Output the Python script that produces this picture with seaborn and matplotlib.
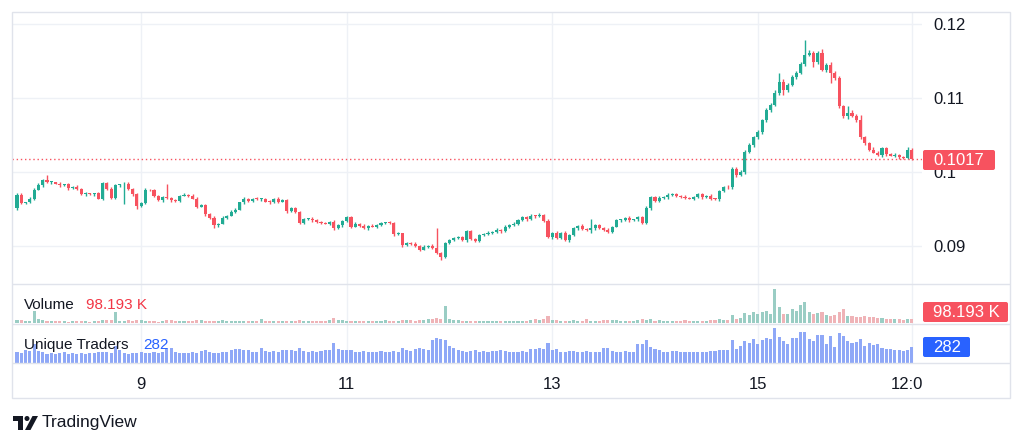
import numpy as np
import pandas as pd
import matplotlib
matplotlib.use("Agg")
import matplotlib.pyplot as plt
import seaborn as sns
from matplotlib.patches import Rectangle, FancyBboxPatch, Circle, Polygon
from matplotlib.ticker import FuncFormatter

# hourly candles, values
first_open = 0.0951
closes_a = [0.0969, 0.0958, 0.0959, 0.0964, 0.0976, 0.0982, 0.0989, 0.0986, 0.0986, 0.0984,
            0.0982, 0.0983, 0.0978, 0.0980, 0.0977, 0.0970, 0.0971, 0.0970, 0.0971, 0.0964,
            0.0985, 0.0977, 0.0965, 0.0982, 0.0983, 0.0984, 0.0977, 0.0970, 0.0954, 0.0958,
            0.0976, 0.0975, 0.0968, 0.0962, 0.0966, 0.0965, 0.0962, 0.0961, 0.0968, 0.0969,
            0.0968, 0.0964, 0.0953, 0.0955, 0.0943, 0.0938, 0.0928, 0.0930, 0.0938, 0.0941,
            0.0946, 0.0949, 0.0959, 0.0964, 0.0961, 0.0964, 0.0963, 0.0964, 0.0960, 0.0959,
            0.0964, 0.0960, 0.0962, 0.0947, 0.0951, 0.0946, 0.0931, 0.0936, 0.0937, 0.0935,
            0.0932]
closes_b = [0.0931, 0.0930, 0.0932, 0.0924, 0.0928, 0.0934, 0.0939, 0.0926, 0.0930, 0.0927,
            0.0924, 0.0927, 0.0926, 0.0928, 0.0931, 0.0932, 0.0931, 0.0916, 0.0917, 0.0901,
            0.0904, 0.0903, 0.0900, 0.0895, 0.0899, 0.0900, 0.0897, 0.0891, 0.0885, 0.0904,
            0.0908, 0.0911, 0.0912, 0.0908, 0.0920, 0.0909, 0.0907, 0.0915, 0.0916, 0.0918,
            0.0919, 0.0922, 0.0920, 0.0926, 0.0928, 0.0930, 0.0935, 0.0939, 0.0936, 0.0941,
            0.0940, 0.0942, 0.0934, 0.0912, 0.0918, 0.0911, 0.0918, 0.0908, 0.0915, 0.0924,
            0.0927, 0.0923, 0.0922, 0.0924, 0.0928, 0.0924, 0.0922, 0.0919, 0.0926, 0.0935]
closes_c = [0.0935, 0.0938, 0.0935, 0.0936, 0.0939, 0.0931, 0.0951, 0.0966,
            0.0961, 0.0965, 0.0966, 0.0969, 0.0970, 0.0968, 0.0966, 0.0965, 0.0964, 0.0966,
            0.0970, 0.0966, 0.0968, 0.0964, 0.0963, 0.0974, 0.0980, 0.0979, 0.1004, 0.0996,
            0.1000, 0.1027, 0.1036, 0.1047, 0.1054, 0.1070, 0.1084, 0.1091, 0.1107, 0.1122,
            0.1111, 0.1118, 0.1128, 0.1134, 0.1146, 0.1158, 0.1161, 0.1149, 0.1161, 0.1138,
            0.1145, 0.1134, 0.1127, 0.1089, 0.1076, 0.1080, 0.1076, 0.1070, 0.1047, 0.1039,
            0.1030, 0.1026, 0.1023, 0.1032, 0.1024, 0.1022, 0.1023, 0.1020, 0.1019, 0.1030,
            0.1017]

# wick lengths beyond the body, in units of 0.0001
wick_up = [3, 2, 1, 2, 2, 3, 2, 7, 2, 1, 2, 1, 2, 1, 2,
           1, 2, 1, 1, 2, 2, 1, 2, 2, 1, 2, 2, 1, 2, 2,
           2, 1, 2, 1, 2, 18, 1, 2, 1, 2, 1, 2, 2, 1, 2,
           1, 2, 1, 2, 1, 2, 2, 1, 2, 1, 1, 2, 1, 1, 2,
           1, 2, 1, 2, 1, 2, 1, 2, 1, 2, 1, 2, 1, 2, 3,
           2, 1, 2, 1, 2, 1, 2, 1, 2, 1, 2, 1, 2, 1, 2,
           1, 2, 1, 2, 1, 2, 1, 2, 27, 1, 2, 2, 1, 2, 1,
           2, 1, 2, 1, 2, 2, 1, 2, 1, 2, 1, 2, 1, 2, 1,
           2, 1, 2, 1, 2, 1, 2, 1, 2, 1, 2, 1, 2, 1, 12,
           1, 2, 1, 2, 1, 2, 2, 1, 2, 1, 2, 1, 3, 2, 1,
           2, 1, 2, 1, 2, 1, 3, 1, 2, 1, 2, 1, 2, 1, 2,
           1, 2, 3, 2, 3, 2, 3, 2, 3, 2, 3, 2, 4, 12, 3,
           2, 3, 2, 3, 20, 3, 2, 2, 5, 2, 3, 2, 3, 2, 9,
           3, 2, 7, 2, 2, 3, 2, 1, 2, 1, 2, 1, 2, 3, 2]
wick_dn = [2, 1, 2, 1, 2, 1, 2, 1, 2, 1, 2, 1, 2, 1, 2,
           1, 2, 1, 2, 1, 2, 1, 2, 1, 2, 26, 1, 2, 4, 1,
           2, 1, 2, 1, 2, 1, 2, 1, 2, 1, 2, 1, 2, 1, 2,
           1, 4, 2, 1, 2, 1, 2, 1, 2, 1, 2, 1, 2, 1, 2,
           1, 2, 1, 2, 1, 2, 1, 2, 1, 2, 1, 2, 1, 2, 2,
           1, 2, 1, 2, 1, 2, 1, 2, 1, 2, 1, 2, 1, 2, 1,
           2, 1, 2, 1, 2, 1, 2, 1, 2, 4, 1, 2, 1, 2, 1,
           2, 1, 2, 1, 2, 1, 2, 1, 2, 1, 2, 1, 2, 1, 2,
           1, 2, 1, 2, 1, 2, 1, 2, 1, 2, 1, 2, 1, 2, 4,
           2, 1, 2, 1, 2, 1, 2, 1, 2, 1, 2, 1, 2, 2, 1,
           2, 1, 2, 1, 2, 1, 2, 1, 2, 1, 2, 1, 2, 1, 2,
           1, 2, 2, 3, 2, 3, 2, 3, 2, 3, 2, 3, 2, 3, 7,
           3, 2, 3, 2, 3, 2, 7, 3, 2, 3, 14, 3, 2, 3, 4,
           2, 3, 2, 3, 2, 1, 2, 3, 2, 1, 2, 3, 2, 1, 1]

# volume in thousands
volume_k = [72, 70, 48, 52, 295, 98, 74, 50, 46, 52, 44, 50, 28, 47, 53, 49, 45, 30, 51, 48,
            70, 76, 68, 270, 52, 47, 71, 50, 66, 73,
            48, 52, 45, 30, 50, 69, 74, 47, 51, 44, 49, 53, 70, 66, 48, 45, 52, 47, 72, 50,
            46, 51, 49, 53, 47, 50, 48, 96, 52, 45,
            50, 47, 52, 46, 49, 51, 71, 48, 45, 52, 47, 50, 49, 68, 122, 74, 70, 51, 46, 49,
            52, 47, 44, 50, 48, 53, 69, 49, 46, 51,
            72, 68, 75, 50, 73, 70, 96, 101, 118, 95, 415, 97, 72, 68, 50, 46, 52, 49, 47, 51,
            48, 52, 46,
            49, 46, 52, 48, 50, 45, 51, 70, 96, 74, 99, 168, 72, 69, 50, 47, 52, 71, 48, 50,
            98, 47, 52, 49, 70, 74, 68, 72, 50, 46, 52, 48, 71, 97, 75, 94, 49, 70, 47, 52,
            46, 50, 48, 73, 51, 47, 49, 52, 50, 74, 69, 97, 75, 72,
            196, 98, 122, 245, 196, 270, 220, 268, 294, 221, 833, 392, 220, 218, 343, 294, 441, 515, 270, 221,
            245, 270, 196, 172, 196, 270, 343, 172, 170, 147, 150, 172, 147, 149, 122, 120, 100, 96, 98, 101,
            74, 97, 98.193]

traders = [190, 175, 215, 200, 320, 210, 180, 160, 170, 150, 165, 180, 150, 170, 160, 175, 155, 170, 165, 180,
           190, 185, 175, 285, 230, 170, 160, 175, 165, 180,
           175, 165, 180, 170, 185, 240, 250, 190, 170, 175, 165, 180, 175, 205, 220, 180, 170, 175, 190, 180,
           225, 235, 240, 230, 215, 190, 180, 265, 200, 185,
           205, 190, 215, 230, 220, 200, 260, 210, 195, 205, 190, 200, 215, 225, 335, 240, 230, 225, 215, 195,
           185, 200, 190, 180, 195, 205, 185, 190, 200, 195,
           260, 225, 210, 240, 250, 235, 230, 395, 420, 410, 400, 290, 250, 220, 200, 190, 205, 215, 195, 200,
           190, 210, 200,
           225, 200, 190, 195, 185, 200, 190, 245, 240, 250, 235, 335, 215, 235, 195, 190, 200, 210, 195, 185,
           200, 190, 195, 180, 250, 260, 200, 195, 185, 205, 195, 190, 320, 330, 390, 280, 235, 215, 190, 195,
           200, 205, 190, 185, 195, 190, 185, 190, 195, 200, 210, 215, 225, 220,
           387, 246, 287, 375, 346, 416, 317, 393, 434, 405, 598, 452, 375, 317, 434, 434, 534, 522, 416, 375,
           475, 475, 317, 463, 270, 510, 463, 375, 346, 358, 416, 287, 346, 305, 328, 258, 246, 246, 229, 217,
           200, 217, 282]

price_ticks = [0.09, 0.10, 0.11, 0.12]
last_price = "0.1017"
last_volume = "98.193 K"
last_traders = "282"

UP, DOWN = "#22ab94", "#f7525f"
VOL_UP, VOL_DOWN = "#92d5ca", "#f9a9ae"
TRADERS_C = "#8fa8f7"
GRID = "#eef1f6"
FRAME = "#e0e3eb"
TXT = "#131722"

close = np.array(closes_a + closes_b + closes_c)
open_ = np.concatenate([[first_open], close[:-1]])
df = pd.DataFrame({
    "i": np.arange(len(close)),
    "open": open_,
    "close": close,
    "high": np.maximum(open_, close) + np.array(wick_up) * 1e-4,
    "low": np.minimum(open_, close) - np.array(wick_dn) * 1e-4,
    "volume": volume_k,
    "traders": traders,
})
df["dir"] = np.where(df["close"] >= df["open"], "up", "down")
times = pd.date_range("2024-07-07 19:00", periods=len(df), freq="h")

sns.set_theme(style="white")
plt.rcParams["font.family"] = ["Liberation Sans", "DejaVu Sans"]

W, H = 1024, 445
fig = plt.figure(figsize=(W / 100, H / 100), dpi=100)


def pane(x0, y0, x1, y1):
    # pixel box, measured from the top left corner
    return fig.add_axes([x0 / W, 1 - y1 / H, (x1 - x0) / W, (y1 - y0) / H])


ax_p = pane(12, 12, 922, 284)
ax_v = pane(12, 284, 922, 324)
ax_t = pane(12, 324, 922, 363)

# candle i sits at 17 + 4.282*i px
step = 4.282
xlim = ((12 - 17) / step, (922 - 17) / step)

tick_pos = [i for i, t in enumerate(times) if t.hour == 0 and t.day in (9, 11, 13, 15)] + [len(times) - 1]
tick_lab = [str(times[i].day) for i in tick_pos[:-1]] + [times[-1].strftime("%H:%M")]

# price pane
colors = np.where(df["dir"] == "up", UP, DOWN)
ax_p.vlines(df["i"], df["low"], df["high"], colors=colors, lw=1, zorder=2)
body = (df["close"] - df["open"]).abs().clip(lower=0.00012)
ax_p.bar(df["i"], body, bottom=np.minimum(df["open"], df["close"]), width=0.72,
         color=colors, linewidth=0, zorder=3)
ax_p.axhline(float(last_price), color=DOWN, lw=1, ls=(0, (1, 2)), zorder=4)
ax_p.set_ylim(0.08486, 0.1216)
ax_p.set_yticks(price_ticks)
ax_p.yaxis.set_major_formatter(FuncFormatter(lambda v, _: f"{v:g}"))
ax_p.yaxis.tick_right()
ax_p.tick_params(axis="y", length=0, pad=8, labelsize=12, labelcolor=TXT)
ax_p.grid(True, axis="y", color=GRID, lw=1)

# volume pane
sns.barplot(data=df, x="i", y="volume", hue="dir", palette={"up": VOL_UP, "down": VOL_DOWN},
            native_scale=True, width=0.72, errorbar=None, legend=False, linewidth=0, ax=ax_v)
ax_v.set_ylim(-24.5, 955)

# unique traders pane
sns.barplot(data=df, x="i", y="traders", color=TRADERS_C, native_scale=True, width=0.72,
            errorbar=None, linewidth=0, ax=ax_t, saturation=1)
ax_t.set_ylim(0, 667)

for ax in (ax_p, ax_v, ax_t):
    ax.set_xlim(*xlim)
    ax.set_xticks(tick_pos)
    ax.grid(True, axis="x", color=GRID, lw=1)
    ax.set_axisbelow(True)
    ax.set_xlabel("")
    ax.set_ylabel("")
    for s in ax.spines.values():
        s.set_visible(False)
    if ax is not ax_t:
        ax.tick_params(axis="x", labelbottom=False, length=0)
for ax in (ax_v, ax_t):
    ax.set_yticks([])
ax_t.set_xticklabels(tick_lab)
ax_t.tick_params(axis="x", length=0, pad=10, labelsize=12, labelcolor=TXT)

# overlay in pixel coordinates: frame, price labels, legends, logo
ov = fig.add_axes([0, 0, 1, 1], zorder=10)
ov.set_xlim(0, W)
ov.set_ylim(H, 0)
ov.axis("off")
ov.add_patch(Rectangle((922.5, 364), 86.5, 33, color="white", lw=0))
ov.add_patch(Rectangle((12, 12), 998, 386, fill=False, ec=FRAME, lw=1))
ov.hlines([284, 324, 363], 12, 1010, color=FRAME, lw=1)

ov.add_patch(FancyBboxPatch((923, 150), 72, 20, boxstyle="round,pad=0,rounding_size=2",
                            fc="#f7525f", ec="none"))
ov.text(933, 160.5, last_price, color="white", fontsize=12, va="center")
ov.add_patch(FancyBboxPatch((923, 302), 85, 20, boxstyle="round,pad=0,rounding_size=2",
                            fc="#f7525f", ec="none"))
ov.text(933, 312.5, last_volume, color="white", fontsize=12, va="center")
ov.add_patch(FancyBboxPatch((923, 337), 47, 20, boxstyle="round,pad=0,rounding_size=2",
                            fc="#2962ff", ec="none"))
ov.text(933, 347.5, last_traders, color="white", fontsize=12, va="center")

ov.text(24, 305, "Volume", color=TXT, fontsize=11, va="center")
ov.text(86, 305, last_volume, color="#f23645", fontsize=11, va="center")
ov.text(24, 345, "Unique Traders", color=TXT, fontsize=11, va="center")
ov.text(143, 345, last_traders, color="#2962ff", fontsize=11, va="center")

# TradingView logo and wordmark
ov.add_patch(Rectangle((12.5, 416), 10.5, 4.5, color=TXT, lw=0))
ov.add_patch(Rectangle((18, 416), 5, 14, color=TXT, lw=0))
ov.add_patch(Circle((27, 418.5), 2.5, color=TXT, lw=0))
ov.add_patch(Polygon([(25, 430), (30.5, 430), (38, 416), (32.5, 416)], closed=True, color=TXT, lw=0))
ov.text(42, 423, "TradingView", color=TXT, fontsize=12.5, va="center")

fig.savefig("out.png", dpi=100)
